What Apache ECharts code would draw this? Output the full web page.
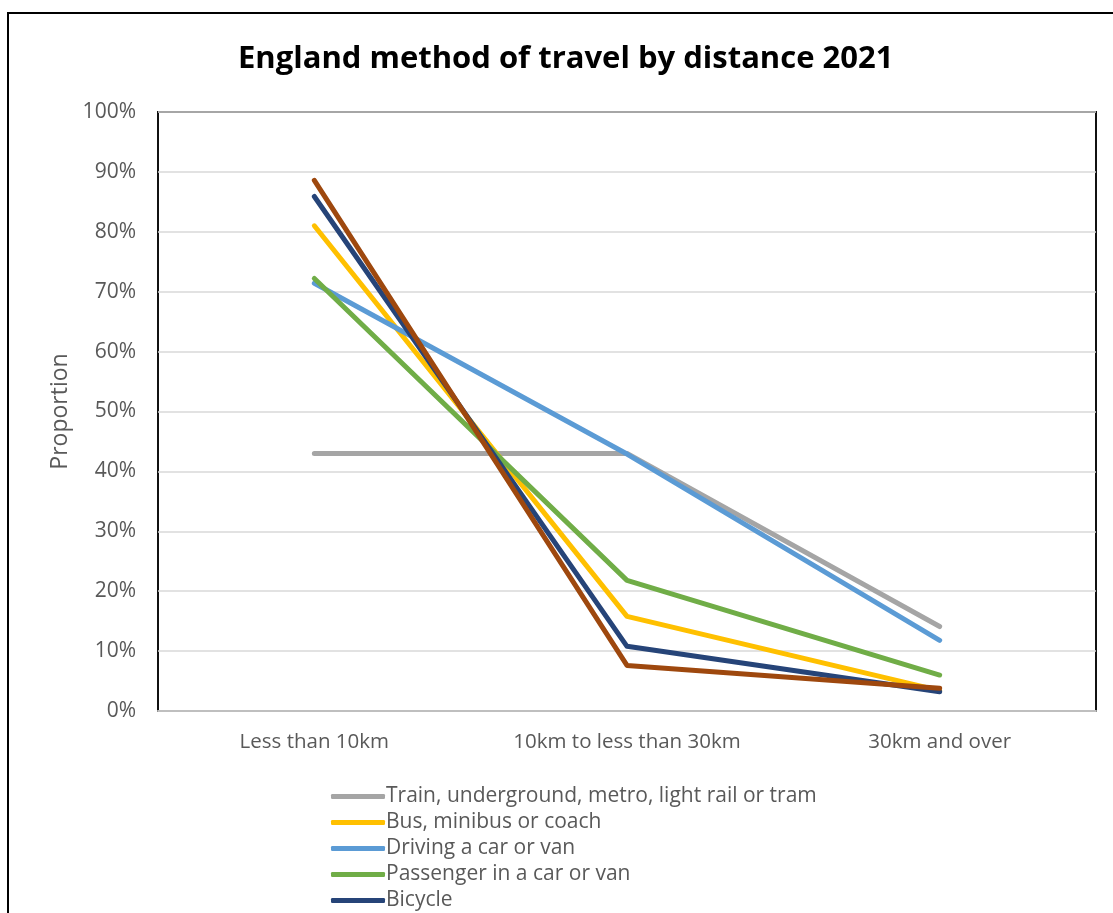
<!DOCTYPE html>
<html>
<head>
<meta charset="utf-8">
<script src="https://cdn.jsdelivr.net/npm/echarts@6/dist/echarts.min.js"></script>
<style>
html,body{margin:0;padding:0;overflow:hidden;background:#fff;}
#c{width:1113px;height:960px;}
</style>
</head>
<body>
<div id="c"></div>
<script>
const categories = ["Less than 10km", "10km to less than 30km", "30km and over"];
const train = [43.0, 43.0, 14.1];
const bus = [81.0, 15.8, 3.4];
const driving = [71.4, 42.9, 11.8];
const passenger = [72.2, 21.8, 6.0];
const bicycle = [85.9, 10.8, 3.2];
const onFoot = [88.6, 7.6, 3.8];
const yTicks = [0, 10, 20, 30, 40, 50, 60, 70, 80, 90, 100];

const seriesDefs = [
  {name: "Train, underground, metro, light rail or tram", data: train, color: "#A5A5A5"},
  {name: "Bus, minibus or coach", data: bus, color: "#FFC000"},
  {name: "Driving a car or van", data: driving, color: "#5B9BD5"},
  {name: "Passenger in a car or van", data: passenger, color: "#70AD47"},
  {name: "Bicycle", data: bicycle, color: "#264478"},
  {name: "On foot", data: onFoot, color: "#9E480E"}
];

const FONT = "Open Sans";
const chart = echarts.init(document.getElementById('c'), null, {renderer: 'canvas'});
chart.setOption({
  animation: false,
  backgroundColor: '#fff',
  title: {
    text: "England method of travel by distance 2021",
    left: 233,
    top: 39,
    textStyle: {fontFamily: FONT, fontWeight: 'bold', fontSize: 31, color: '#000'}
  },
  graphic: [{
    type: 'rect',
    shape: {x: 8, y: 13, width: 1200, height: 1000},
    style: {fill: 'none', stroke: '#000', lineWidth: 2},
    silent: true, z: 100
  }],
  grid: {
    left: 158, top: 112, right: 1113 - 1096, height: 599,
    show: true, borderColor: '#111', borderWidth: 2, backgroundColor: 'transparent'
  },
  legend: {
    orient: 'vertical',
    left: 326, top: 781,
    itemWidth: 54, itemHeight: 5,
    itemGap: 5,
    icon: 'roundRect',
    textStyle: {fontFamily: FONT, fontSize: 21, color: '#595959', lineHeight: 21, padding: [0,0,0,-4]},
    data: seriesDefs.map(s => s.name)
  },
  xAxis: {
    type: 'category',
    data: categories,
    boundaryGap: true,
    axisLine: {show: true, lineStyle: {color: '#BFBFBF', width: 2}},
    axisTick: {show: false},
    axisLabel: {fontFamily: FONT, fontSize: 20.5, color: '#595959', margin: 21},
    z: 10
  },
  yAxis: {
    type: 'value',
    min: 0, max: 100, interval: 10,
    name: 'Proportion',
    nameLocation: 'middle',
    nameGap: 82,
    nameTextStyle: {fontFamily: FONT, fontSize: 23, color: '#595959'},
    axisLine: {show: false},
    axisTick: {show: false},
    splitLine: {lineStyle: {color: '#D9D9D9', width: 1.5}},
    axisLabel: {
      fontFamily: FONT, fontSize: 21, color: '#595959', margin: 22,
      formatter: v => yTicks.includes(v) ? v + '%' : ''
    }
  },
  series: seriesDefs.map(s => ({
    name: s.name,
    type: 'line',
    data: s.data,
    symbol: 'none',
    lineStyle: {color: s.color, width: 5, cap: 'round', join: 'round'},
    itemStyle: {color: s.color}
  }))
});
</script>
</body>
</html>
